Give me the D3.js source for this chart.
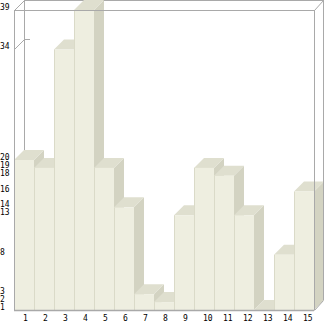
<!DOCTYPE html>
<html>
<head>
<meta charset="utf-8">
<script src="https://cdn.jsdelivr.net/npm/d3@7"></script>
<style>
	body { margin: 0; background: #fff; }
	text { font-family: "DejaVu Sans Mono", monospace; font-size: 8px; fill: #000; }
</style>
</head>
<body>
<div id="chart"></div>
<script>
// ---------- DATA ----------
const categories = ["1", "2", "3", "4", "5", "6", "7", "8", "9", "10", "11", "12", "13", "14", "15"];
const values = [20, 19, 34, 39, 19, 14, 3, 2, 13, 19, 18, 13, 1, 8, 16];
const tickValues = [39, 34, 20, 19, 18, 16, 14, 13, 8, 3, 2, 1];

// ---------- LAYOUT ----------
const width = 326;
const height = 321;
const plot = { left: 14, right: 314, top: 10, bottom: 310 };
const depth = 10; // 3d offset, up and right

const frameColor = "#a9a9a9";
const faceColors = { front: "#eeeee0", top: "#dfdfcf", side: "#d3d3c2", edge: "#dadac8" };

const svg = d3
	.select("#chart")
	.append("svg")
	.attr("width", width)
	.attr("height", height);

const xScale = d3
	.scaleBand()
	.domain(categories)
	.range([plot.left, plot.right])
	.padding(0);

const yScale = d3
	.scaleLinear()
	.domain([d3.min(values), d3.max(values)])
	.range([plot.bottom, plot.top]);

const line = (g, x1, y1, x2, y2) =>
	g.append("line")
		.attr("x1", x1).attr("y1", y1)
		.attr("x2", x2).attr("y2", y2)
		.attr("stroke", frameColor)
		.attr("stroke-width", 1);

// back wall
const backG = svg.append("g").classed("back", true);
line(backG, plot.left + depth + 0.5, plot.top - depth + 0.5, plot.left + depth + 0.5, plot.bottom - depth);
line(backG, plot.left + depth, plot.top - depth + 0.5, plot.right + depth, plot.top - depth + 0.5);

// tick marks going into the back wall
const tickG = svg.append("g").classed("ticks", true);
tickValues.forEach((v) => {
	const y = Math.round(yScale(v)) + 0.5;
	line(tickG, plot.left + 0.5, y, plot.left + depth + 0.5, y - depth);
	line(tickG, plot.left + depth, y - depth, plot.left + depth + 6, y - depth);
});

// bars, left to right so later bars hide side faces
const barsG = svg.append("g").classed("bars", true);
const bw = xScale.bandwidth();

categories.forEach((c, i) => {
	const x0 = xScale(c);
	const x1 = x0 + bw;
	const yT = yScale(values[i]);
	const yB = plot.bottom;
	const bar = barsG.append("g").classed("bar", true);

	bar.append("polygon")
		.attr("points", [[x1, yT], [x1 + depth, yT - depth], [x1 + depth, yB - depth], [x1, yB]].join(" "))
		.attr("fill", faceColors.side);
	bar.append("polygon")
		.attr("points", [[x0, yT], [x0 + depth, yT - depth], [x1 + depth, yT - depth], [x1, yT]].join(" "))
		.attr("fill", faceColors.top);
	bar.append("rect")
		.attr("x", x0)
		.attr("y", yT)
		.attr("width", bw)
		.attr("height", yB - yT)
		.attr("fill", faceColors.front);
	bar.append("line")
		.attr("x1", x0 + 0.5).attr("y1", yT)
		.attr("x2", x0 + 0.5).attr("y2", yB)
		.attr("stroke", faceColors.edge)
		.attr("stroke-width", 1);
});

// front frame on top
const frontG = svg.append("g").classed("front", true);
line(frontG, plot.left + 0.5, plot.top, plot.left + 0.5, plot.bottom);
line(frontG, plot.left, plot.top + 0.5, plot.right, plot.top + 0.5);
line(frontG, plot.right + 0.5, plot.top, plot.right + 0.5, plot.bottom);
line(frontG, plot.right + depth - 0.5, plot.top - depth, plot.right + depth - 0.5, plot.bottom - depth);
line(frontG, plot.left + 0.5, plot.top + 0.5, plot.left + depth + 0.5, plot.top - depth + 0.5);
line(frontG, plot.right + 0.5, plot.top + 0.5, plot.right + depth - 0.5, plot.top - depth + 0.5);
line(frontG, plot.right + 0.5, plot.bottom + 0.5, plot.right + depth - 0.5, plot.bottom - depth + 0.5);
line(frontG, plot.left, plot.bottom + 0.5, plot.right, plot.bottom + 0.5).attr("stroke-width", 1.5);

// labels
svg.append("g")
	.classed("y-labels", true)
	.selectAll("text")
	.data(tickValues)
	.join("text")
	.attr("x", 0)
	.attr("y", (d) => yScale(d) - 2.5)
	.attr("dominant-baseline", "central")
	.text((d) => d);

svg.append("g")
	.classed("x-labels", true)
	.selectAll("text")
	.data(categories)
	.join("text")
	.attr("x", (d) => xScale(d) + 9)
	.attr("y", 318)
	.attr("dominant-baseline", "central")
	.text((d) => d);
</script>
</body>
</html>
